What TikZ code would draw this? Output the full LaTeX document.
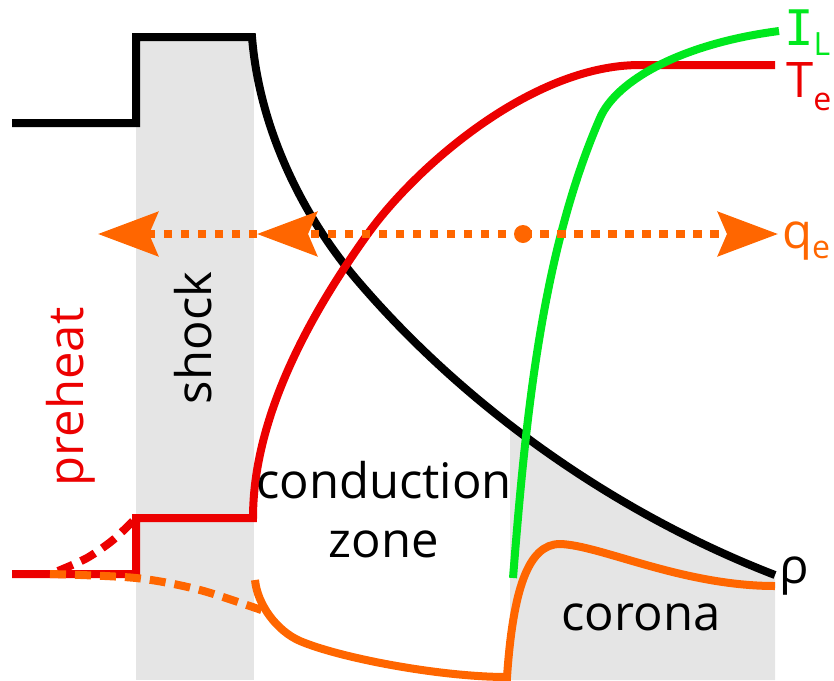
\documentclass[tikz,border=0pt]{standalone}
\usepackage{fontspec}
\setmainfont{Open Sans}
\newfontfamily\barfont{DejaVu Sans Mono}
\usetikzlibrary{arrows.meta}

\definecolor{tered}{RGB}{236,0,0}
\definecolor{qorange}{RGB}{255,102,0}
\definecolor{ilgreen}{RGB}{0,232,30}
\definecolor{zonegray}{RGB}{229,229,229}

\newcommand{\lowsub}[2]{\raisebox{-#1}{\fontsize{32}{32}\selectfont #2}}

\tikzset{
  curve/.style={line width=8pt, line join=miter},
  dashcurve/.style={line width=8pt, dash pattern=on 16pt off 9pt},
  flux/.style={qorange, line width=8pt, dash pattern=on 8.5pt off 8.5pt},
  fluxhead/.tip={Stealth[length=60pt, width=44pt, inset=9pt]},
  lbl/.style={inner sep=0pt, font=\fontsize{49}{49}\selectfont},
}

% density profile behind the shock
\def\rhocurve{(252,37) .. controls (259,125) and (300,213) .. (357,280)
  .. controls (467,409) and (617,514) .. (775,575)}

\begin{document}
\begin{tikzpicture}[x=1pt, y=-1pt]
\useasboundingbox (0,0) rectangle (834,680);

% shaded regions: shock layer and corona
\fill[zonegray] (136,37) rectangle (254,680);
\begin{scope}
  \clip (510,0) rectangle (775,680);
  \fill[zonegray] \rhocurve -- (775,680) -- (252,680) -- cycle;
\end{scope}

% density
\draw[curve, black] (12,123) -- (136,123) -- (136,37) -- \rhocurve;

% electron temperature
\draw[curve, tered] (12,574) -- (136,574) -- (136,518) -- (253,518)
  .. controls (253,418) and (309,316) .. (367,235)
  .. controls (413,170) and (530,65) .. (640,65) -- (775,65);
\draw[dashcurve, tered] plot[smooth] coordinates {(58,571) (87,558) (113,540) (135,519)};

% heat flux profile
\draw[dashcurve, qorange] plot[smooth] coordinates {(50,574) (136,578) (200,590) (267,612)};
\draw[curve, qorange] (255,580) .. controls (257.5,605) and (277,631) .. (300,641)
  .. controls (340,658) and (440,677) .. (507,677)
  .. controls (513,590) and (528,544) .. (560,544)
  .. controls (600,545) and (682,586) .. (775,586);

% laser intensity
\draw[curve, ilgreen] (513,578) .. controls (525,428) and (540,256) .. (600,118)
  .. controls (616,81) and (680,44) .. (779,31);

% heat flux arrows
\coordinate (qsrc) at (523,234);
\coordinate (qmid) at (257,234);
\coordinate (qleft) at (98,234);
\coordinate (qright) at (778,234);
\draw[flux, -fluxhead] (qsrc) -- (qmid);
\draw[flux, -fluxhead] (qmid) -- (qleft);
\draw[flux, -fluxhead] (qsrc) -- (qright);
\fill[qorange] (qsrc) circle (9pt);

% labels
\node[lbl, tered, anchor=base west] (lte) at (786,97) {T\lowsub{13pt}{e}};
\node[lbl, ilgreen, anchor=base west] (lil) at (784,45) {{\barfont I}\lowsub{10pt}{L}};
\node[lbl, qorange, anchor=base west] (lqe) at (782,248) {q\lowsub{10pt}{e}};
\node[lbl, black, anchor=base west] (lrho) at (779,583) {ρ};
\node[lbl, tered, rotate=90] (lpre) at (71,397) {preheat};
\node[lbl, black, rotate=90] (lshock) at (193,338) {shock};
\node[lbl, black, anchor=base] (lcond) at (384,498) {conduction};
\node[lbl, black, anchor=base] (lzone) at (384,557) {zone};
\node[lbl, black, anchor=base] (lcor) at (641,630) {corona};
\end{tikzpicture}
\end{document}
